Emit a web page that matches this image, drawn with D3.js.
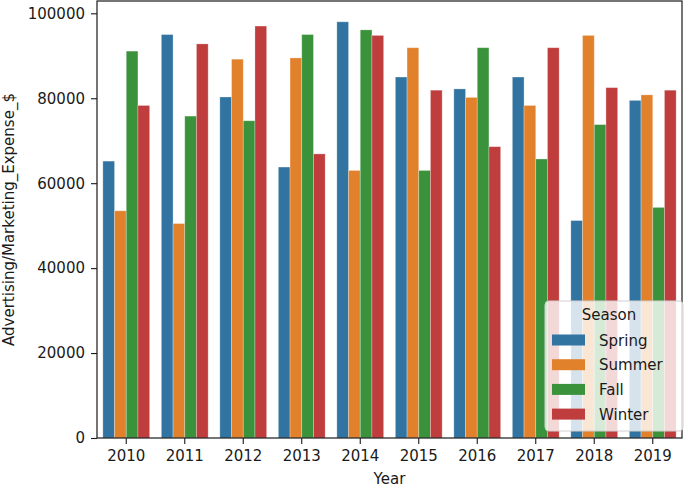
<!DOCTYPE html>
<html>
<head>
<meta charset="utf-8">
<script src="https://cdn.jsdelivr.net/npm/d3@7"></script>
<style>
  body { margin: 0; background: #fff; }
  text { font-family: "DejaVu Sans", sans-serif; fill: #1a1a1a; }
</style>
</head>
<body>
<svg id="chart" width="685" height="487"></svg>
<script>
const years = ["2010", "2011", "2012", "2013", "2014", "2015", "2016", "2017", "2018", "2019"]
const seasons = ["Spring", "Summer", "Fall", "Winter"]
const spring = [65200, 95000, 80300, 63800, 98000, 85000, 82200, 85000, 51200, 79500]
const summer = [53500, 50500, 89200, 89500, 63000, 91900, 80200, 78300, 94800, 80800]
const fall = [91100, 75800, 74700, 95000, 96100, 63000, 91900, 65700, 73800, 54300]
const winter = [78300, 92800, 97000, 66900, 94800, 81900, 68600, 91900, 82500, 81900]
const yTicks = [0, 20000, 40000, 60000, 80000, 100000]
const colors = ["#3274a1", "#e1812c", "#3a923a", "#c03d3e"]

const seriesBySeason = [spring, summer, fall, winter]
const rows = []
years.forEach((year, i) => {
  seasons.forEach((season, j) => {
    rows.push({ year, season, value: seriesBySeason[j][i] })
  })
})

const margin = { left: 97, right: 3, top: 1, bottom: 49 }
const width = 685, height = 487
const svg = d3.select("#chart")

const x = d3.scaleBand()
  .domain(years)
  .range([margin.left, width - margin.right])
  .paddingInner(0.2)
  .paddingOuter(0.1)

const inner = d3.scaleBand()
  .domain(seasons)
  .range([0, x.bandwidth()])

const maxVal = d3.max(rows, d => d.value)
const y = d3.scaleLinear()
  .domain([0, maxVal * 1.05])
  .range([height - margin.bottom, margin.top])

const color = d3.scaleOrdinal().domain(seasons).range(colors)

// bars
svg.append("g")
  .selectAll("rect")
  .data(rows)
  .join("rect")
  .attr("x", d => x(d.year) + inner(d.season))
  .attr("y", d => y(d.value))
  .attr("width", inner.bandwidth())
  .attr("height", d => y(0) - y(d.value))
  .attr("fill", d => color(d.season))
  .attr("stroke", "rgba(255,255,255,0.35)")
  .attr("stroke-width", 0.8)

// axes
const xAxis = svg.append("g")
  .attr("transform", `translate(0,${y(0)})`)
  .call(d3.axisBottom(x).tickSize(6).tickPadding(6))
xAxis.select(".domain").remove()

const yAxis = svg.append("g")
  .attr("transform", `translate(${margin.left},0)`)
  .call(d3.axisLeft(y).tickValues(yTicks).tickFormat(d3.format("d")).tickSize(6).tickPadding(6))
yAxis.select(".domain").remove()

svg.selectAll(".tick text").attr("font-size", 15).attr("font-family", "DejaVu Sans").attr("fill", "#1a1a1a")
svg.selectAll(".tick line").attr("stroke", "#1a1a1a").attr("stroke-width", 1.1)

// frame
svg.append("rect")
  .attr("x", margin.left)
  .attr("y", margin.top)
  .attr("width", width - margin.left - margin.right)
  .attr("height", y(0) - margin.top)
  .attr("fill", "none")
  .attr("stroke", "#1a1a1a")
  .attr("stroke-width", 1.2)

// axis labels
svg.append("text")
  .attr("x", (margin.left + width - margin.right) / 2)
  .attr("y", 484)
  .attr("text-anchor", "middle")
  .attr("font-size", 15)
  .text("Year")

svg.append("text")
  .attr("transform", `translate(14,${(margin.top + y(0)) / 2}) rotate(-90)`)
  .attr("text-anchor", "middle")
  .attr("font-size", 15)
  .text("Advertising/Marketing_Expense_$")

// legend
const legend = svg.append("g").attr("transform", "translate(545,301)")
legend.append("rect")
  .attr("width", 138)
  .attr("height", 130)
  .attr("rx", 4)
  .attr("fill", "rgba(255,255,255,0.8)")
  .attr("stroke", "#d0d0d0")

legend.append("text")
  .attr("x", 64)
  .attr("y", 19)
  .attr("text-anchor", "middle")
  .attr("font-size", 15)
  .text("Season")

const items = legend.selectAll("g.item")
  .data(seasons)
  .join("g")
  .attr("class", "item")
  .attr("transform", (d, i) => `translate(0,${39 + i * 24.7})`)

items.append("rect")
  .attr("x", 7)
  .attr("y", -5.5)
  .attr("width", 33)
  .attr("height", 11)
  .attr("fill", d => color(d))

items.append("text")
  .attr("x", 54)
  .attr("y", 5.5)
  .attr("font-size", 15)
  .text(d => d)
</script>
</body>
</html>
